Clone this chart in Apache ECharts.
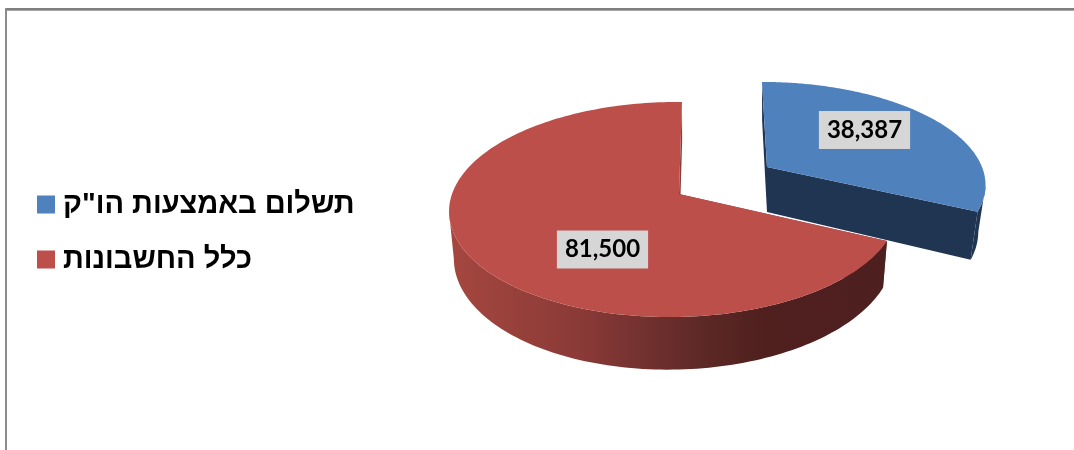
<!DOCTYPE html>
<html><head><meta charset="utf-8">
<style>html,body{margin:0;padding:0;background:#fff}#c{width:1074px;height:450px}</style>
<script src="https://cdn.jsdelivr.net/npm/echarts@6/dist/echarts.min.js"></script>
</head><body><div id="c"></div>
<script>
const categories = ['תשלום באמצעות הו"ק', 'כלל החשבונות'];
const values = [38387, 81500];

const looks = [
  {x0:767,y0:167,a1:215,a2:-5.8,b1:0,b2:-98,k:.152,m:0,depth:45,vx:767,shrink:.967,
   top:'#4f81bd',wall:'#1f3552',face:'#1f3552',label:[97.5,-37]},
  {x0:679,y0:194,a1:222,a2:3.4,b1:0,b2:-105.3,k:.144,m:.022,depth:45,vx:690,shrink:.98,
   top:'#bd4f4b',face:'#8c3b38',
   wall:new echarts.graphic.LinearGradient(450,0,887,0,[
     {offset:0,color:'#a5473f'},{offset:.3,color:'#8a3a37'},{offset:.57,color:'#5e2927'},
     {offset:.72,color:'#4f201e'},{offset:1,color:'#4d1f1e'}],true),label:[-76.5,55.5]}
];
const total = values.reduce((a,b)=>a+b,0);
function project(L,theta,rho){
  const u=rho*Math.sin(theta), v=rho*Math.cos(theta), w=1+L.m*u+L.k*v;
  return {x:L.x0+(L.a1*u+L.a2*v)/w, y:L.y0+(L.b1*u+L.b2*v)/w, w};
}
function lower(L,p){ return [L.vx+(p.x-L.vx)*L.shrink, p.y+L.depth/p.w]; }

function renderSlice(L,start,end,text){
  const arc=[], n=180;
  for(let i=0;i<=n;i++) arc.push(project(L,start+(end-start)*i/n,1));
  const apex=project(L,0,0);
  const poly=(pts,fill)=>({type:'polygon',shape:{points:pts},style:{fill,stroke:null},silent:true});
  const top=arc.map(p=>[p.x,p.y]);
  const face=p=>poly([[apex.x,apex.y],[p.x,p.y],lower(L,p),lower(L,apex)],L.face);
  // the outer wall shows only where the rim runs right-to-left along the front
  const front=arc.filter((p,i)=>(i<n&&arc[i+1].x<p.x)||(i>0&&p.x<arc[i-1].x));
  const wall=front.map(p=>[p.x,p.y]).concat(front.map(p=>lower(L,p)).reverse());
  return {type:'group',children:[
    face(arc[0]),face(arc[n]),
    poly(wall,L.wall),
    poly([[apex.x,apex.y]].concat(top),L.top),
    {type:'text',x:apex.x+L.label[0],y:apex.y+L.label[1],
     style:{text,fill:'#000',font:'bold 24px Lato, "Open Sans", sans-serif',align:'center',verticalAlign:'middle',
            backgroundColor:'#d6d6d6',padding:[7,8]}}
  ]};
}

let acc=0;
const series=categories.map((name,i)=>{
  const start=acc/total*2*Math.PI; acc+=values[i]; const end=acc/total*2*Math.PI;
  return {type:'custom',name,coordinateSystem:'none',data:[values[i]],silent:true,
    itemStyle:{color:looks[i].top},
    renderItem:()=>renderSlice(looks[i],start,end,values[i].toLocaleString('en-US'))};
});

const chart=echarts.init(document.getElementById('c'),null,{renderer:'canvas'});
chart.setOption({
  animation:false,backgroundColor:'#fff',
  legend:{orient:'vertical',left:37,top:190,padding:0,icon:'rect',itemWidth:18,itemHeight:18,itemGap:26,
    selectedMode:false,data:categories,
    textStyle:{color:'#000',fontFamily:'"Liberation Sans", Arial, sans-serif',fontWeight:'bold',fontSize:29,padding:[0,0,0,3]}},
  graphic:[
    {type:'rect',shape:{x:5,y:8,width:1069,height:2},style:{fill:'#7f7f7f'}},
    {type:'rect',shape:{x:7,y:10,width:1067,height:1},style:{fill:'#a6a6a6'}},
    {type:'rect',shape:{x:5,y:8,width:2,height:442},style:{fill:'#8c8c8c'}}
  ],
  series
});
</script></body></html>
